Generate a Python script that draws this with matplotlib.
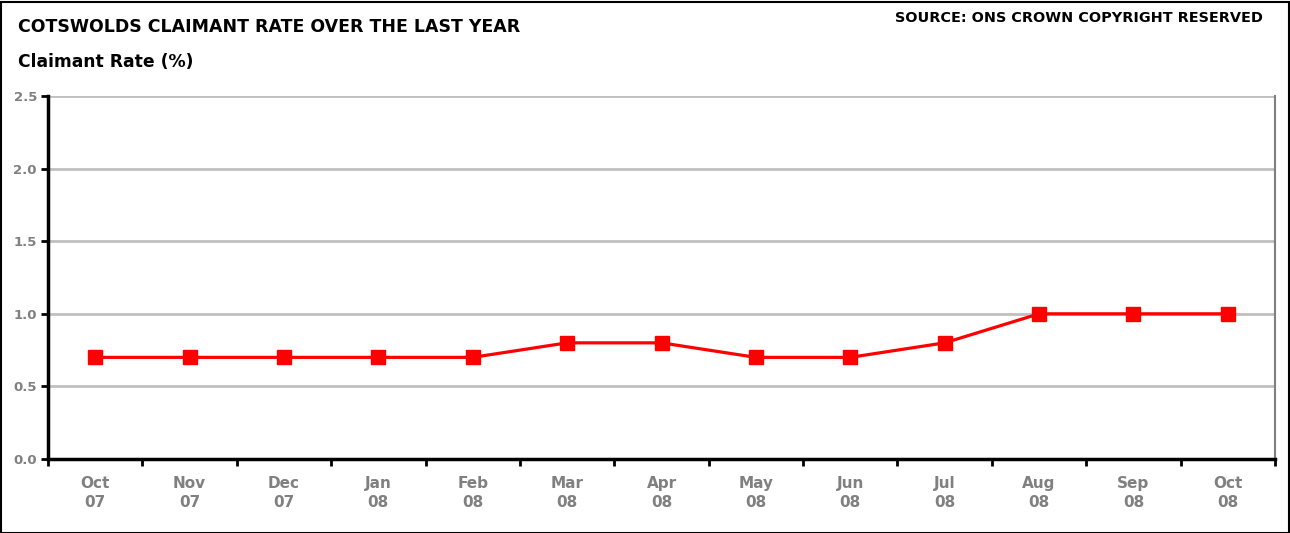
import matplotlib
matplotlib.use("Agg")
import matplotlib.pyplot as plt
from matplotlib.patches import Rectangle
from matplotlib.ticker import FixedLocator, FormatStrFormatter, NullFormatter

months = ["Oct\n07", "Nov\n07", "Dec\n07", "Jan\n08", "Feb\n08", "Mar\n08", "Apr\n08",
          "May\n08", "Jun\n08", "Jul\n08", "Aug\n08", "Sep\n08", "Oct\n08"]
claimant_rate = [0.7, 0.7, 0.7, 0.7, 0.7, 0.8, 0.8, 0.7, 0.7, 0.8, 1.0, 1.0, 1.0]
y_ticks = [0.0, 0.5, 1.0, 1.5, 2.0, 2.5]

plt.rcParams['font.family'] = ['DejaVu Sans']

fig = plt.figure(figsize=(12.9, 5.33), dpi=100)
ax = fig.add_axes([48 / 1290, 1 - 459 / 533, (1275 - 48) / 1290, (459 - 96) / 533])

x = list(range(len(months)))
ax.plot(x, claimant_rate, color="#ff0000", lw=2.3, marker="s", markersize=9.5,
        markeredgecolor="#ff0000", markerfacecolor="#ff0000", zorder=3, clip_on=False)

ax.set_xlim(-0.5, len(months) - 0.5)
ax.set_ylim(0, 2.5)

# horizontal grid lines
for yv in y_ticks[1:]:
    ax.axhline(yv, color="#c0c0c0", lw=2, zorder=1)

ax.set_yticks(y_ticks)
ax.yaxis.set_major_formatter(FormatStrFormatter("%.1f"))
ax.tick_params(axis="y", direction="out", length=5, width=2, color="black",
               labelsize=9.5, labelcolor="#808080", pad=3)

ax.set_xticks(x)
ax.set_xticklabels(months, fontweight="bold")
ax.tick_params(axis="x", which="major", length=0, labelsize=11, labelcolor="#808080", pad=12)
ax.xaxis.set_minor_locator(FixedLocator([i - 0.5 for i in range(len(months) + 1)]))
ax.xaxis.set_minor_formatter(NullFormatter())
ax.tick_params(axis="x", which="minor", direction="out", length=5, width=2, color="black")
for lbl in ax.get_yticklabels():
    lbl.set_fontweight("bold")
for lbl in ax.get_xticklabels():
    lbl.set_linespacing(1.4)

ax.spines["left"].set_color("black")
ax.spines["left"].set_linewidth(2.5)
ax.spines["bottom"].set_color("black")
ax.spines["bottom"].set_linewidth(2.5)
ax.spines["right"].set_color("#808080")
ax.spines["right"].set_linewidth(1.5)
ax.spines["top"].set_visible(False)
ax.spines["left"].set_zorder(4)
ax.spines["bottom"].set_zorder(4)

fig.text(18 / 1290, 1 - 26.5 / 533, "COTSWOLDS CLAIMANT RATE OVER THE LAST YEAR",
         fontsize=12.5, fontweight="bold", va="center", ha="left")
fig.text(18 / 1290, 1 - 62 / 533, "Claimant Rate (%)",
         fontsize=12.3, fontweight="bold", va="center", ha="left")
fig.text(1263 / 1290, 1 - 18 / 533, "SOURCE: ONS CROWN COPYRIGHT RESERVED",
         fontsize=10.4, fontweight="bold", va="center", ha="right")

fig.patches.append(Rectangle((0.5 / 1290, 0.5 / 533), 1 - 2 / 1290, 1 - 2 / 533,
                             transform=fig.transFigure, fill=False, edgecolor="black", lw=1.5))

fig.savefig("out.png", dpi=100)
